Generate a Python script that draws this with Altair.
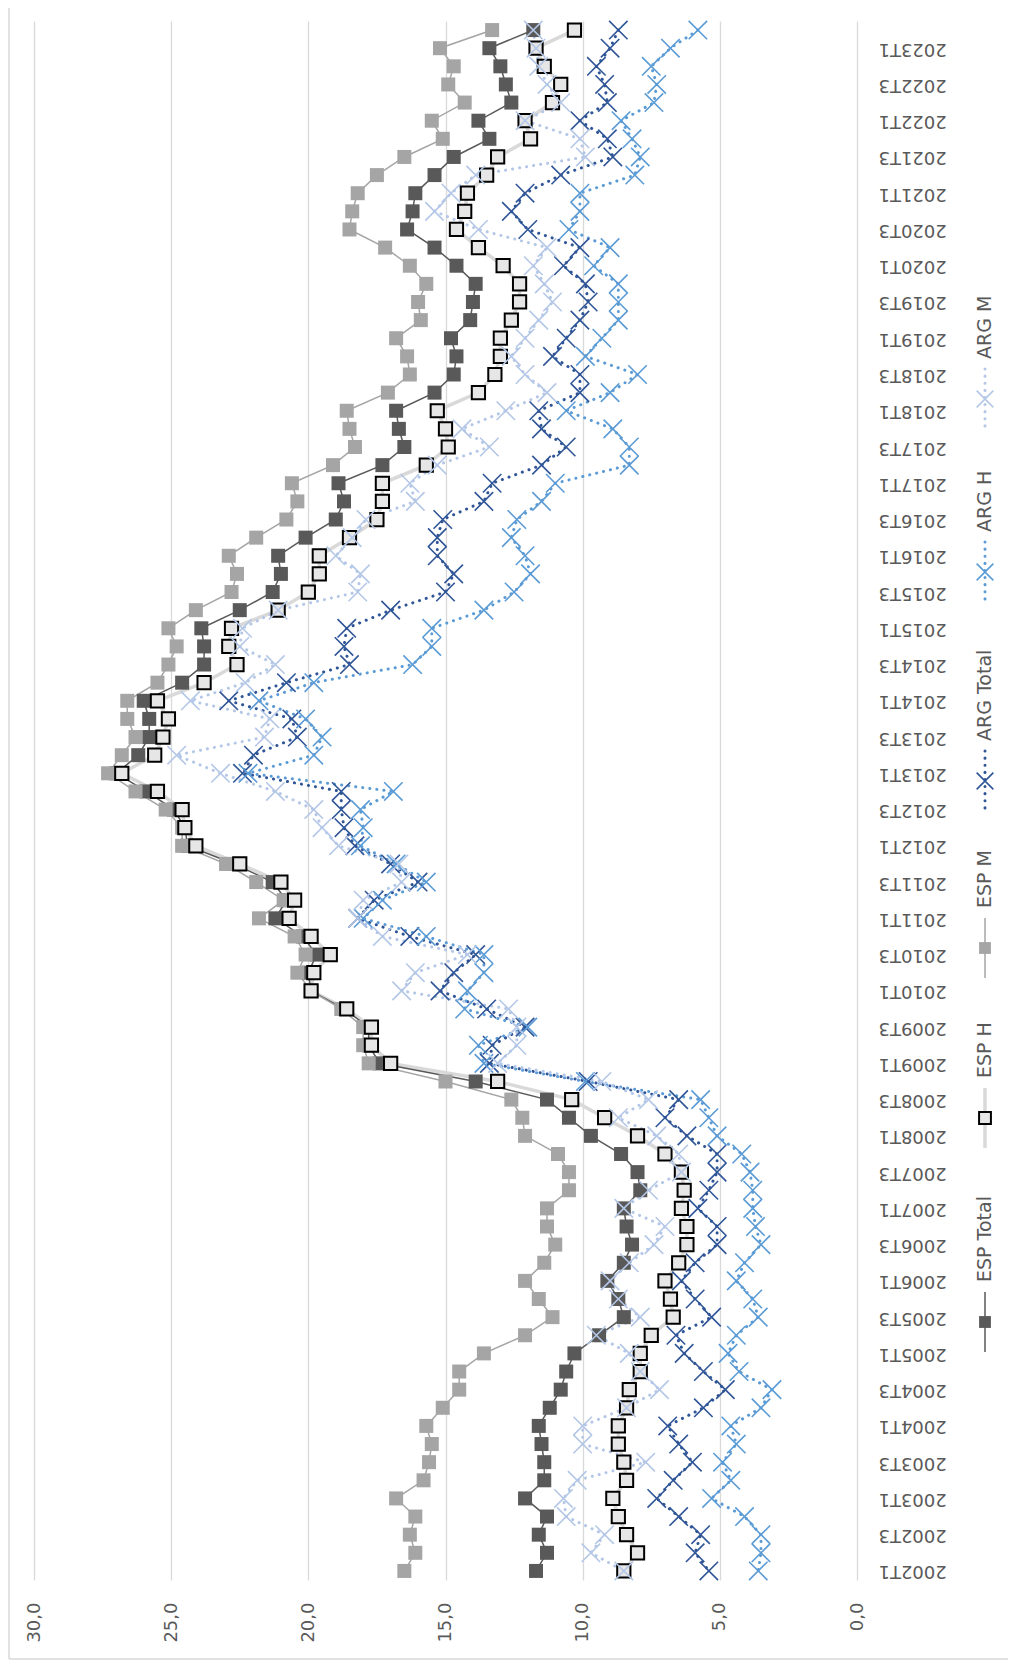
import altair as alt
import pandas as pd

quarters = [f"{y}T{q}" for y in range(2002, 2024) for q in (1, 2, 3, 4)][:86]
tick_quarters = quarters[::2]
value_ticks = [0, 5, 10, 15, 20, 25, 30]

series_names = ["ESP Total", "ESP H", "ESP M", "ARG Total", "ARG H", "ARG M"]

esp_total = [11.7, 11.3, 11.6, 11.3, 12.1, 11.4, 11.4, 11.5, 11.6, 11.2,
             10.8, 10.6, 10.3, 9.4, 8.5, 8.7, 9.1, 8.5, 8.2, 8.4,
             8.5, 7.9, 8.0, 8.6, 9.7, 10.5, 11.3, 13.9, 17.4, 17.8,
             17.8, 18.7, 19.9, 20.0, 19.7, 20.2, 21.2, 20.8, 21.3, 22.7,
             24.4, 24.5, 24.9, 25.9, 27.0, 26.2, 25.8, 25.8, 26.0, 24.6,
             23.8, 23.8, 23.9, 22.5, 21.3, 21.0, 21.1, 20.1, 19.0, 18.7,
             18.9, 17.3, 16.5, 16.7, 16.8, 15.4, 14.7, 14.6, 14.8, 14.1,
             14.0, 13.9, 14.6, 15.4, 16.4, 16.2, 16.1, 15.4, 14.7, 13.4,
             13.8, 12.6, 12.8, 13.0, 13.4, 11.8]

esp_h = [8.5, 8.0, 8.4, 8.7, 8.9, 8.4, 8.5, 8.7, 8.7, 8.4,
         8.3, 7.9, 7.9, 7.5, 6.7, 6.8, 7.0, 6.5, 6.2, 6.2,
         6.4, 6.3, 6.4, 7.0, 8.0, 9.2, 10.4, 13.1, 17.0, 17.7,
         17.7, 18.6, 19.9, 19.8, 19.2, 19.9, 20.7, 20.5, 21.0, 22.5,
         24.1, 24.5, 24.6, 25.5, 26.8, 25.6, 25.3, 25.1, 25.5, 23.8,
         22.6, 22.9, 22.8, 21.1, 20.0, 19.6, 19.6, 18.5, 17.5, 17.3,
         17.3, 15.7, 14.9, 15.0, 15.3, 13.8, 13.2, 13.0, 13.0, 12.6,
         12.3, 12.3, 12.9, 13.8, 14.6, 14.3, 14.2, 13.5, 13.1, 11.9,
         12.1, 11.1, 10.8, 11.4, 11.7, 10.3]

esp_m = [16.5, 16.1, 16.3, 16.1, 16.8, 15.8, 15.6, 15.5, 15.7, 15.1,
         14.5, 14.5, 13.6, 12.1, 11.1, 11.6, 12.1, 11.4, 11.0, 11.3,
         11.3, 10.5, 10.5, 10.9, 12.1, 12.2, 12.6, 15.0, 17.8, 18.0,
         18.0, 18.8, 19.9, 20.4, 20.1, 20.5, 21.8, 20.9, 21.9, 23.0,
         24.6, 24.6, 25.2, 26.3, 27.3, 26.8, 26.3, 26.6, 26.6, 25.5,
         25.1, 24.8, 25.1, 24.1, 22.8, 22.6, 22.9, 21.9, 20.8, 20.4,
         20.6, 19.1, 18.3, 18.5, 18.6, 17.1, 16.3, 16.4, 16.8, 15.9,
         16.0, 15.7, 16.3, 17.2, 18.5, 18.4, 18.2, 17.5, 16.5, 15.1,
         15.5, 14.3, 14.9, 14.7, 15.2, 13.3]

arg_total = [5.4, 5.9, 5.7, 6.5, 7.3, 6.7, 6.0, 6.5, 6.9, 5.6,
             4.8, 5.6, 6.3, 6.6, 5.3, 5.9, 6.4, 5.9, 5.1, 5.1,
             5.8, 5.4, 5.1, 5.1, 6.2, 7.0, 6.5, 9.8, 13.4, 13.3,
             12.1, 13.5, 15.2, 14.7, 13.9, 16.3, 18.2, 17.6, 16.0, 17.0,
             18.3, 18.7, 18.8, 18.8, 22.4, 22.0, 20.4, 20.6, 22.9, 20.8,
             18.5, 18.7, 18.6, 17.0, 15.0, 14.7, 15.3, 15.3, 15.1, 13.6,
             13.3, 11.5, 10.6, 11.5, 11.6, 10.1, 10.1, 11.1, 10.6, 10.1,
             9.8, 9.9, 10.7, 10.1, 12.0, 12.6, 12.1, 10.8, 8.9, 9.1,
             10.1, 9.1, 9.2, 9.5, 9.0, 8.7]

arg_h = [3.6, 3.5, 3.5, 4.1, 5.3, 4.6, 4.9, 4.4, 4.6, 3.5,
         3.1, 4.3, 4.7, 4.4, 3.6, 3.8, 4.4, 4.1, 3.5, 3.7,
         3.8, 3.8, 3.9, 4.2, 5.1, 5.4, 5.7, 9.9, 13.6, 13.8,
         12.0, 14.3, 14.2, 13.6, 13.6, 15.7, 18.0, 17.3, 15.7, 16.8,
         18.1, 18.0, 18.1, 16.9, 22.2, 19.8, 19.5, 20.1, 21.8, 19.8,
         16.2, 15.5, 15.5, 13.6, 12.5, 11.9, 12.1, 12.6, 12.4, 11.5,
         11.0, 8.3, 8.3, 8.9, 10.6, 9.0, 8.0, 9.9, 9.3, 8.7,
         8.7, 8.7, 9.6, 9.0, 10.5, 10.1, 10.1, 8.1, 7.9, 8.2,
         8.6, 7.4, 7.3, 7.5, 6.8, 5.8]

arg_m = [8.5, 9.7, 9.2, 10.6, 10.7, 10.2, 7.7, 10.0, 10.0, 8.4,
         7.2, 7.9, 8.3, 9.5, 7.9, 8.7, 9.0, 8.3, 7.4, 7.0,
         8.5, 7.6, 6.4, 6.5, 7.3, 8.7, 7.6, 9.3, 13.1, 12.4,
         12.4, 12.7, 16.6, 16.1, 14.2, 17.3, 18.2, 18.0, 16.6, 16.7,
         18.9, 19.5, 19.8, 21.2, 23.2, 24.8, 21.6, 21.4, 24.3, 22.3,
         21.2, 22.5, 22.4, 21.1, 18.2, 18.1, 19.0, 18.4, 17.9, 16.1,
         16.3, 15.3, 13.4, 14.4, 12.8, 11.3, 12.1, 12.6, 12.1, 11.6,
         11.1, 11.4, 11.8, 11.3, 13.8, 15.4, 14.8, 13.9, 9.9, 10.1,
         12.1, 10.8, 11.3, 11.6, 11.7, 11.8]

series_values = [esp_total, esp_h, esp_m, arg_total, arg_h, arg_m]

# ---------------- styles ----------------
FONT = "DejaVu Sans"
TXT = "#595959"
GRID = "#d9d9d9"
X_SHAPE = "M-1,-1L1,1M-1,1L1,-1"

styles = {
    "ESP Total": dict(line=dict(color="#595959", strokeWidth=1.5),
                      pt=dict(shape="square", filled=True, color="#595959", size=196)),
    "ESP H": dict(line=dict(color="#d9d9d9", strokeWidth=3.5),
                  pt=dict(shape="square", filled=True, fill="#e7e6e6", stroke="#000000",
                          strokeWidth=2, size=175)),
    "ESP M": dict(line=dict(color="#a5a5a5", strokeWidth=1.5),
                  pt=dict(shape="square", filled=True, color="#a5a5a5", size=196)),
    "ARG Total": dict(line=dict(color="#2f5597", strokeWidth=3, strokeDash=[0.1, 7], strokeCap="round"),
                      pt=dict(shape=X_SHAPE, filled=False, color="#2f5597", strokeWidth=1.6, size=340)),
    "ARG H": dict(line=dict(color="#5b9bd5", strokeWidth=3, strokeDash=[0.1, 7], strokeCap="round"),
                  pt=dict(shape=X_SHAPE, filled=False, color="#5b9bd5", strokeWidth=1.6, size=340)),
    "ARG M": dict(line=dict(color="#b4c7e7", strokeWidth=3, strokeDash=[0.1, 7], strokeCap="round"),
                  pt=dict(shape=X_SHAPE, filled=False, color="#b4c7e7", strokeWidth=1.6, size=340)),
}

W, H = 823, 1559

x_enc = alt.X(
    "value:Q",
    scale=alt.Scale(domain=[0, 30], reverse=True, nice=False, zero=False),
    axis=alt.Axis(
        values=value_ticks,
        labelExpr="replace(format(datum.value, '.1f'), '.', ',')",
        labelAngle=270, labelAlign="right", labelBaseline="middle",
        labelPadding=22, ticks=False, tickSize=0, domain=False,
        grid=True, gridColor=GRID, gridWidth=1.3,
        labelFont=FONT, labelFontSize=18, labelColor=TXT, title=None,
    ),
)
y_enc = alt.Y(
    "quarter:O",
    sort=quarters[::-1],
    scale=alt.Scale(type="point", padding=0.5),
    axis=alt.Axis(
        orient="right", values=tick_quarters,
        labelAngle=180, labelAlign="right", labelBaseline="middle",
        labelPadding=21, ticks=False, tickSize=0, domain=False, grid=False,
        labelFont=FONT, labelFontSize=18, labelColor=TXT, title=None,
        labelOverlap=False,
    ),
)

frames = {}
for name, vals in zip(series_names, series_values):
    frames[name] = pd.DataFrame({"quarter": quarters, "value": vals, "series": name})

line_layers = []
for name in ["ESP H", "ESP Total", "ESP M", "ARG Total", "ARG H", "ARG M"]:
    line_layers.append(
        alt.Chart(frames[name]).mark_line(**styles[name]["line"]).encode(x=x_enc, y=y_enc)
    )
point_layers = []
for name in ["ESP Total", "ESP M", "ESP H", "ARG Total", "ARG H", "ARG M"]:
    point_layers.append(
        alt.Chart(frames[name]).mark_point(opacity=1, **styles[name]["pt"]).encode(x=x_enc, y=y_enc)
    )

# ---------------- legend (rotated, right side) ----------------
LEG_X = 951
leg_centers = {"ESP Total": 1301, "ESP H": 1097, "ESP M": 927,
               "ARG Total": 760, "ARG H": 551, "ARG M": 378}
legend_layers = []
for name in series_names:
    cy = leg_centers[name]
    d = pd.DataFrame({"name": [name]})
    legend_layers.append(
        alt.Chart(d).mark_rule(**styles[name]["line"]).encode(
            x=alt.value(LEG_X), y=alt.value(cy - 30), y2=alt.value(cy + 30))
    )
    pt = dict(styles[name]["pt"])
    pt["size"] = 140 if pt["shape"] == "square" else 280
    legend_layers.append(
        alt.Chart(d).mark_point(opacity=1, **pt).encode(x=alt.value(LEG_X), y=alt.value(cy))
    )
    legend_layers.append(
        alt.Chart(d).mark_text(angle=270, align="left", baseline="middle",
                               font=FONT, fontSize=19, color=TXT).encode(
            x=alt.value(LEG_X), y=alt.value(cy - 40), text="name:N")
    )

# chart-area border (left and bottom edges visible in the reference)
bd = pd.DataFrame({"b": [0]})
border_layers = [
    alt.Chart(bd).mark_rule(color=GRID, strokeWidth=1.5).encode(
        x=alt.value(-25), y=alt.value(-13), y2=alt.value(1638)),
    alt.Chart(bd).mark_rule(color=GRID, strokeWidth=1.5).encode(
        x=alt.value(-25), x2=alt.value(974), y=alt.value(1638)),
]

chart = alt.layer(*line_layers, *point_layers, *legend_layers, *border_layers).properties(
    width=W, height=H,
    autosize=alt.AutoSizeParams(type="none"),
    padding={"left": 26, "top": 13, "right": 151, "bottom": 84},
    background="white",
).configure_view(stroke=None)

chart.save("out.html", embed_options={"renderer": "svg", "actions": False})
